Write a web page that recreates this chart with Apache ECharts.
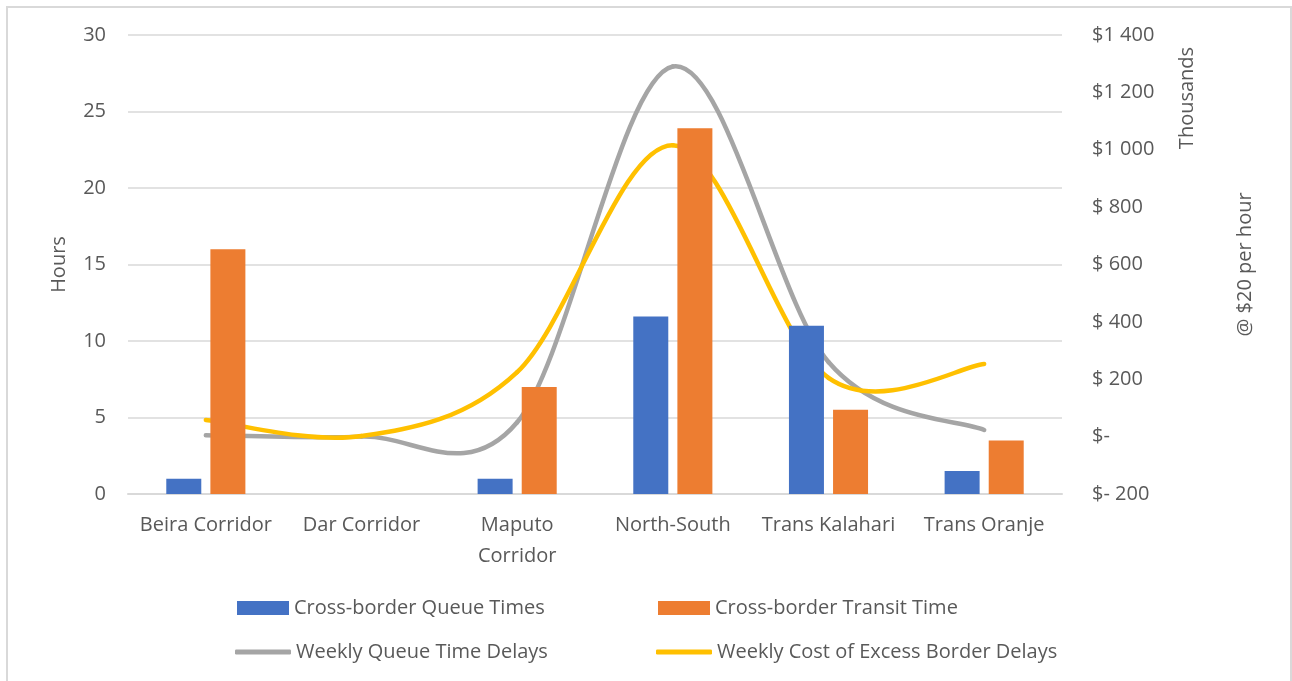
<!DOCTYPE html>
<html>
<head>
<meta charset="utf-8">
<script src="https://cdn.jsdelivr.net/npm/echarts@6/dist/echarts.min.js"></script>
<style>
html,body{margin:0;padding:0;background:#fff;}
#chart{width:1292px;height:681px;}
</style>
</head>
<body>
<div id="chart"></div>
<script>
var categories = ['Beira Corridor', 'Dar Corridor', 'Maputo\nCorridor', 'North-South', 'Trans Kalahari', 'Trans Oranje'];
var queueTimes = [1, 0, 1, 11.6, 11, 1.5];
var transitTimes = [16, 0, 7, 23.9, 5.5, 3.5];
var weeklyQueueDelays = [5, 0, 50, 1290, 260, 23];
var weeklyCost = [58, 2, 225, 1016, 205, 253];
var leftTicks = {min: 0, max: 30, interval: 5};
var rightTicks = {min: -200, max: 1400, interval: 200};

var FONT = 'Open Sans';
var TXT = '#595959';
var FS = 20;
var chart = echarts.init(document.getElementById('chart'));

function rightFmt(v) {
  if (v === 0) return '$-';
  if (v < 0) return '$- ' + Math.abs(v);
  if (v >= 1000) {
    var th = Math.floor(v / 1000), r = v % 1000;
    return '$' + th + ' ' + ('00' + r).slice(-3);
  }
  return '$ ' + v;
}

// Excel-style smoothed line (Catmull-Rom / cubic Bezier, 1/6 tangents), one segment per data item
function smoothRenderer(values, color) {
  return function (params, api) {
    var i = params.dataIndex;
    var n = values.length;
    if (i >= n - 1) return null;
    var pt = function (k) {
      k = Math.max(0, Math.min(n - 1, k));
      return api.coord([k, values[k]]);
    };
    var p0 = pt(i - 1), p1 = pt(i), p2 = pt(i + 1), p3 = pt(i + 2);
    var c1 = [p1[0] + (p2[0] - p0[0]) / 6, p1[1] + (p2[1] - p0[1]) / 6];
    var c2 = [p2[0] - (p3[0] - p1[0]) / 6, p2[1] - (p3[1] - p1[1]) / 6];
    return {
      type: 'bezierCurve',
      shape: {x1: p1[0], y1: p1[1], cpx1: c1[0], cpy1: c1[1], cpx2: c2[0], cpy2: c2[1], x2: p2[0], y2: p2[1]},
      style: {stroke: color, lineWidth: 4.5, fill: null, lineCap: 'round'}
    };
  };
}

function toPairs(values) {
  return values.map(function (v, k) { return [k, v]; });
}

var legendBase = {
  textStyle: {color: TXT, fontFamily: FONT, fontSize: FS},
  padding: 0,
  itemGap: 5,
  itemWidth: 52,
  itemHeight: 14,
  selectedMode: false
};

chart.setOption({
  backgroundColor: '#fff',
  animation: false,
  textStyle: {fontFamily: FONT},
  grid: {left: 128, right: 230, top: 35, bottom: 187},
  graphic: [
    {type: 'rect', shape: {x: 7, y: 7, width: 1284, height: 700}, style: {fill: 'none', stroke: '#d9d9d9', lineWidth: 2}, silent: true},
    {type: 'text', x: 1187, y: 98, rotation: Math.PI / 2, style: {text: 'Thousands', fill: TXT, fontFamily: FONT, fontSize: FS, align: 'center', verticalAlign: 'middle'}}
  ],
  legend: [
    Object.assign({}, legendBase, {left: 237, top: 598, data: [{name: 'Cross-border Queue Times', icon: 'rect'}]}),
    Object.assign({}, legendBase, {left: 658, top: 598, data: [{name: 'Cross-border Transit Time', icon: 'rect'}]}),
    Object.assign({}, legendBase, {left: 235, top: 642, itemWidth: 56, itemHeight: 5, data: [{name: 'Weekly Queue Time Delays', icon: 'roundRect'}]}),
    Object.assign({}, legendBase, {left: 656, top: 642, itemWidth: 56, itemHeight: 5, data: [{name: 'Weekly Cost of Excess Border Delays', icon: 'roundRect'}]})
  ],
  xAxis: {
    type: 'category',
    data: categories,
    axisLine: {lineStyle: {color: '#d9d9d9', width: 2}},
    axisTick: {show: false},
    axisLabel: {color: TXT, fontFamily: FONT, fontSize: FS, margin: 16, lineHeight: 31, interval: 0}
  },
  yAxis: [
    {
      type: 'value', min: leftTicks.min, max: leftTicks.max, interval: leftTicks.interval,
      name: 'Hours', nameLocation: 'middle', nameRotate: 90, nameGap: 59,
      nameTextStyle: {color: TXT, fontFamily: FONT, fontSize: FS},
      axisLine: {show: false}, axisTick: {show: false},
      axisLabel: {color: TXT, fontFamily: FONT, fontSize: FS, margin: 22},
      splitLine: {lineStyle: {color: '#d9d9d9', width: 1.5}}
    },
    {
      type: 'value', min: rightTicks.min, max: rightTicks.max, interval: rightTicks.interval,
      position: 'right',
      name: '@ $20 per hour', nameLocation: 'middle', nameRotate: 90, nameGap: 173,
      nameTextStyle: {color: TXT, fontFamily: FONT, fontSize: FS},
      axisLine: {show: false}, axisTick: {show: false},
      axisLabel: {color: TXT, fontFamily: FONT, fontSize: FS, margin: 30, formatter: rightFmt},
      splitLine: {show: false}
    }
  ],
  series: [
    {name: 'Cross-border Queue Times', type: 'bar', data: queueTimes, yAxisIndex: 0, barWidth: 35, barGap: '26%', itemStyle: {color: '#4472c4'}},
    {name: 'Cross-border Transit Time', type: 'bar', data: transitTimes, yAxisIndex: 0, barWidth: 35, barGap: '26%', itemStyle: {color: '#ed7d31'}},
    {name: 'Weekly Queue Time Delays', type: 'custom', yAxisIndex: 1, data: toPairs(weeklyQueueDelays), encode: {x: 0, y: 1}, itemStyle: {color: '#a5a5a5'}, renderItem: smoothRenderer(weeklyQueueDelays, '#a5a5a5'), clip: false},
    {name: 'Weekly Cost of Excess Border Delays', type: 'custom', yAxisIndex: 1, data: toPairs(weeklyCost), encode: {x: 0, y: 1}, itemStyle: {color: '#ffc000'}, renderItem: smoothRenderer(weeklyCost, '#ffc000'), clip: false}
  ]
});
</script>
</body>
</html>
